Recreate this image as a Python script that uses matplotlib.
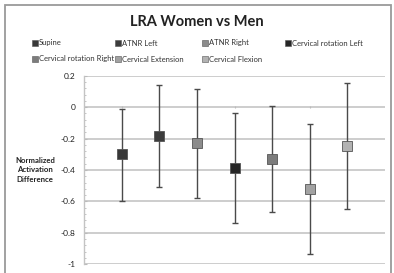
import matplotlib
matplotlib.use("Agg")
import matplotlib.pyplot as plt
from matplotlib.lines import Line2D
from matplotlib.patches import Rectangle
import numpy as np

categories = ["Supine", "ATNR Left", "ATNR Right", "Cervical rotation Left",
              "Cervical rotation Right", "Cervical Extension", "Cervical Flexion"]
means = [-0.30, -0.185, -0.227, -0.39, -0.33, -0.524, -0.25]
upper = [-0.01, 0.138, 0.117, -0.038, 0.01, -0.108, 0.153]
lower = [-0.60, -0.505, -0.575, -0.74, -0.665, -0.935, -0.648]
colors = ["#383838", "#3c3c3c", "#8c8c8c", "#262626", "#7c7c7c", "#a2a2a2", "#b2b2b2"]
yticks = [0.2, 0, -0.2, -0.4, -0.6, -0.8, -1]
ytick_labels = ["0.2", "0", "-0.2", "-0.4", "-0.6", "-0.8", "-1"]

plt.rcParams['font.family'] = ['Lato', 'DejaVu Sans']

W, H = 394, 273
fig = plt.figure(figsize=(W / 100, H / 100), dpi=100)
fig.patch.set_facecolor("white")

# chart border
fig.add_artist(Rectangle((5 / W, -0.02), (391 - 5) / W, 1 - 5 / H + 0.02,
                         transform=fig.transFigure, fill=False,
                         edgecolor="#9a9a9a", linewidth=1.3))

ax = fig.add_axes([84 / W, 1 - 264.3 / H, (385 - 84) / W, (264.3 - 75.7) / H])
ax.set_facecolor("white")
x = np.arange(1, len(categories) + 1)
ax.set_xlim(0, len(categories) + 1)
ax.set_ylim(-1, 0.2)

for yv in yticks:
    ax.axhline(yv, color="#c9c9c9", linewidth=1.3, zorder=0)

for i in range(len(categories)):
    ax.errorbar([x[i]], [means[i]],
                yerr=[[means[i] - lower[i]], [upper[i] - means[i]]],
                fmt='none', ecolor="#4a4a4a", elinewidth=1.0, capsize=2.2,
                capthick=1.0, zorder=2)
    ax.plot([x[i]], [means[i]], marker='s', markersize=6.8, color=colors[i],
            markeredgecolor="#555555", markeredgewidth=0.6, zorder=3,
            linestyle='none')

ax.set_yticks(yticks)
ax.set_yticklabels(ytick_labels, fontsize=6, color="#222222")
ax.set_yticks(np.arange(-1, 0.2001, 0.04), minor=True)
ax.tick_params(axis='y', which='major', length=2.5, direction='in',
               color="#bbbbbb", pad=6)
ax.tick_params(axis='y', which='minor', length=1.5, direction='in',
               color="#bbbbbb")

ax.set_xticks(x)
ax.set_xticklabels([])
ax.spines['bottom'].set_position(('data', 0))
ax.spines['bottom'].set_visible(False)
ax.tick_params(axis='x', which='major', length=1.5, direction='inout',
               color="#bbbbbb")
for s in ['top', 'right']:
    ax.spines[s].set_visible(False)
ax.spines['left'].set_color("#c4c4c4")
ax.spines['left'].set_linewidth(1.0)

fig.text(197 / W, 1 - 22 / H, "LRA Women vs Men", ha='center', va='center',
         fontsize=10.5, fontweight='bold', color="#222222")

fig.text(35 / W, 1 - 170 / H, "Normalized\nActivation\nDifference",
         ha='center', va='center', fontsize=5.6, fontweight='bold',
         color="#222222", linespacing=1.45)

# legend
col_x = [35, 118, 205, 288]
row_y = [43, 59]
for i, lab in enumerate(categories):
    r, c = divmod(i, 4)
    mx, my = col_x[c] / W, 1 - row_y[r] / H
    fig.add_artist(Line2D([mx], [my], marker='s', markersize=4, color=colors[i],
                          markeredgecolor="#555555", markeredgewidth=0.4,
                          linestyle='none', transform=fig.transFigure))
    fig.text(mx + 4 / W, my, lab, ha='left', va='center', fontsize=5.5,
             color="#333333")

fig.savefig("out.png", dpi=100, facecolor="white")
